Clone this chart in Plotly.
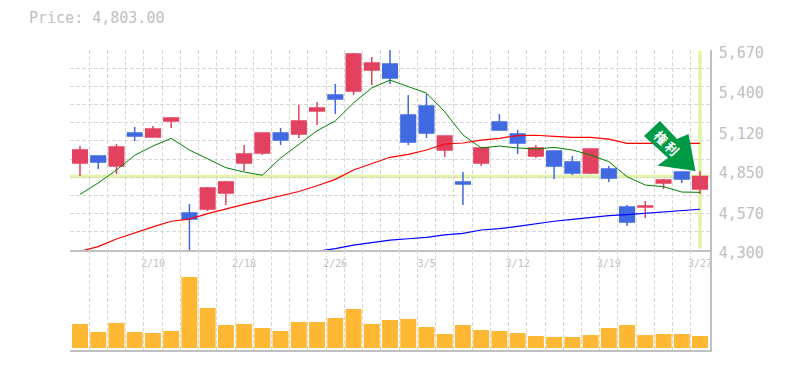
import plotly.graph_objects as go
import numpy as np

# ---------- data ----------
x_idx = list(range(35))
tick_idx = [4, 9, 14, 19, 24, 29, 34]
tick_labels = ["2/10", "2/18", "2/26", "3/5", "3/12", "3/19", "3/27"]
price_labels = [4300, 4570, 4850, 5120, 5400, 5670]
last_price = 4803

opens = [4896, 4944, 4875, 5101, 5074, 5184, 4553, 4581, 4690, 4896, 4964, 5101, 5095, 5252, 5362, 5389, 5533, 5574, 5225, 5286, 4985, 4766, 4896, 5177, 5095, 4944, 4978, 4903, 4827, 4855, 4594, 4594, 4759, 4834, 4718]
closes = [4985, 4903, 5006, 5081, 5129, 5204, 4512, 4725, 4766, 4958, 5101, 5054, 5184, 5273, 5334, 5643, 5581, 5478, 5040, 5101, 5081, 4752, 4999, 5122, 5033, 4999, 4875, 4827, 4992, 4793, 4492, 4601, 4779, 4786, 4803]
highs = [5012, 4944, 5026, 5143, 5149, 5211, 4615, 4731, 4773, 5019, 5101, 5136, 5293, 5314, 5437, 5649, 5622, 5670, 5362, 5369, 5081, 4834, 4999, 5232, 5122, 5019, 4978, 4944, 4992, 4875, 4608, 4636, 4786, 4840, 4841]
lows = [4807, 4855, 4821, 5047, 5074, 5136, 4300, 4567, 4608, 4841, 4951, 5019, 5067, 5156, 5232, 5362, 5430, 5437, 5019, 5067, 4937, 4608, 4875, 5122, 4958, 4930, 4786, 4814, 4821, 4766, 4464, 4519, 4718, 4759, 4684]

ma_short = [4681, 4759, 4848, 4949, 5012, 5065, 4985, 4923, 4864, 4834, 4812, 4930, 5026, 5117, 5184, 5307, 5410, 5464, 5419, 5375, 5247, 5088, 4999, 5012, 4999, 4992, 5003, 4985, 4951, 4905, 4802, 4745, 4734, 4697, 4695]
ma_mid = [4291, 4323, 4375, 4418, 4458, 4497, 4512, 4549, 4583, 4613, 4642, 4670, 4701, 4740, 4784, 4848, 4894, 4935, 4955, 4985, 5026, 5033, 5053, 5065, 5084, 5086, 5079, 5072, 5072, 5060, 5031, 5031, 5031, 5031, 5031]
ma_long = [None] * 13 + [4291, 4309, 4334, 4350, 4368, 4377, 4387, 4403, 4414, 4437, 4446, 4462, 4480, 4497, 4510, 4524, 4535, 4542, 4551, 4558, 4572, 4579]

volume = [24, 16, 25, 16, 15, 17, 71, 40, 23, 24, 20, 17, 26, 26, 30, 39, 24, 28, 29, 21, 14, 23, 18, 17, 15, 12, 11, 11, 13, 20, 23, 13, 14, 14, 12]

# ---------- style ----------
GRID = "#d8d8d8"
AXIS = "#c0c0c0"
TEXT = "#c0c0c0"
RED = "#e2425f"
BLUE = "#4169e1"
HILITE = "#e3f5a3"
MONO = "DejaVu Sans Mono"
W, H, L, R, T, B = 785, 370, 70, 75, 50, 20
PW, PH = W - L - R, H - T - B
DASH = "4px,2px"


def px(x):
    return (x - L) / PW


def py(y):
    return (T + PH - y) / PH


fig = go.Figure()

fig.add_trace(go.Candlestick(
    x=x_idx, open=opens, high=highs, low=lows, close=closes,
    increasing=dict(line=dict(color=RED, width=1.5), fillcolor=RED),
    decreasing=dict(line=dict(color=BLUE, width=1.5), fillcolor=BLUE),
    whiskerwidth=0, showlegend=False, hoverinfo="skip",
))
for vals, col, w in [(ma_short, "#008000", 1), (ma_mid, "#ff0000", 1.2), (ma_long, "#0000ff", 1.2)]:
    fig.add_trace(go.Scatter(x=x_idx, y=vals, mode="lines", line=dict(color=col, width=w),
                             showlegend=False, hoverinfo="skip"))
fig.add_trace(go.Bar(x=x_idx, y=volume, xaxis="x2", yaxis="y2", marker=dict(color="#ffb833", line=dict(width=0)),
                     showlegend=False, hoverinfo="skip"))

minor_x = dict(tickvals=[i - 0.5 for i in range(36)], showgrid=True, gridcolor=GRID, griddash=DASH,
               gridwidth=1, ticklen=0)
x_range = [-0.548, 34.548]

# arrow polygon, in pixels of the picture
arrow = [(660, 121), (644, 136), (668, 158), (657.5, 165.5), (695.5, 171), (688.5, 134), (677, 139)]
path = "M " + " L ".join(f"{px(a):.5f},{py(b):.5f}" for a, b in arrow) + " Z"

fig.update_layout(
    width=W, height=H, autosize=False,
    margin=dict(l=L, r=R, t=T, b=B, pad=0, autoexpand=False),
    paper_bgcolor="white", plot_bgcolor="white",
    boxgap=0.2, boxgroupgap=0, bargap=0.123,
    title=dict(text="Price: 4,803.00", x=29 / W, xanchor="left", y=1 - 18 / H, yanchor="middle",
               font=dict(family=MONO, size=15, color=TEXT)),
    xaxis=dict(domain=[0, 1], range=x_range, anchor="y", tickmode="array", tickvals=tick_idx, ticktext=tick_labels,
               showgrid=False, minor=minor_x, zeroline=False, ticks="", ticklabelstandoff=3, automargin=False,
               tickfont=dict(family=MONO, size=10, color=TEXT), showline=True, linecolor=AXIS, linewidth=1.5,
               rangeslider=dict(visible=False)),
    yaxis=dict(domain=[1 / 3, 1], range=[4300, 5670], side="right", tickmode="array", tickvals=price_labels,
               tickformat=",d", showgrid=False, zeroline=False, ticks="", ticklabelstandoff=4, ticklabelshift=3,
               automargin=False,
               minor=dict(tickvals=list(np.linspace(4300, 5670, 12)), showgrid=True, gridcolor=GRID,
                          griddash=DASH, gridwidth=1, ticklen=0),
               tickfont=dict(family=MONO, size=15, color=TEXT), showline=True, linecolor=AXIS, linewidth=1.5),
    xaxis2=dict(domain=[0, 1], range=x_range, anchor="y2", showticklabels=False, showgrid=False, minor=minor_x,
                zeroline=False, ticks="", showline=True, linecolor=AXIS, linewidth=1.5),
    yaxis2=dict(domain=[0, 1 / 3], range=[-2, 98], side="right", showticklabels=False, showgrid=False,
                zeroline=False, ticks="", showline=True, linecolor=AXIS, linewidth=1.5),
    shapes=[
        dict(type="line", xref="x", yref="y", x0=x_range[0], x1=x_range[1], y0=last_price, y1=last_price,
             line=dict(color=HILITE, width=3.5), layer="below"),
        dict(type="line", xref="x", yref="y", x0=34, x1=34, y0=4310, y1=5665,
             line=dict(color=HILITE, width=3.5), layer="below"),
        dict(type="path", xref="paper", yref="paper", path=path, fillcolor="#009944",
             line=dict(width=0), layer="above"),
    ],
    annotations=[
        dict(text="<b>権</b>", xref="paper", yref="paper", x=px(661.5), y=py(137), showarrow=False, textangle=45,
             font=dict(family="Noto Sans CJK JP", size=13, color="white"), xanchor="center", yanchor="middle"),
        dict(text="<b>利</b>", xref="paper", yref="paper", x=px(672.5), y=py(148), showarrow=False, textangle=45,
             font=dict(family="Noto Sans CJK JP", size=13, color="white"), xanchor="center", yanchor="middle"),
    ],
)

fig.write_html("out.html", config=dict(displayModeBar=False),
               post_script="document.body.style.margin='0';document.body.style.overflow='hidden';")
